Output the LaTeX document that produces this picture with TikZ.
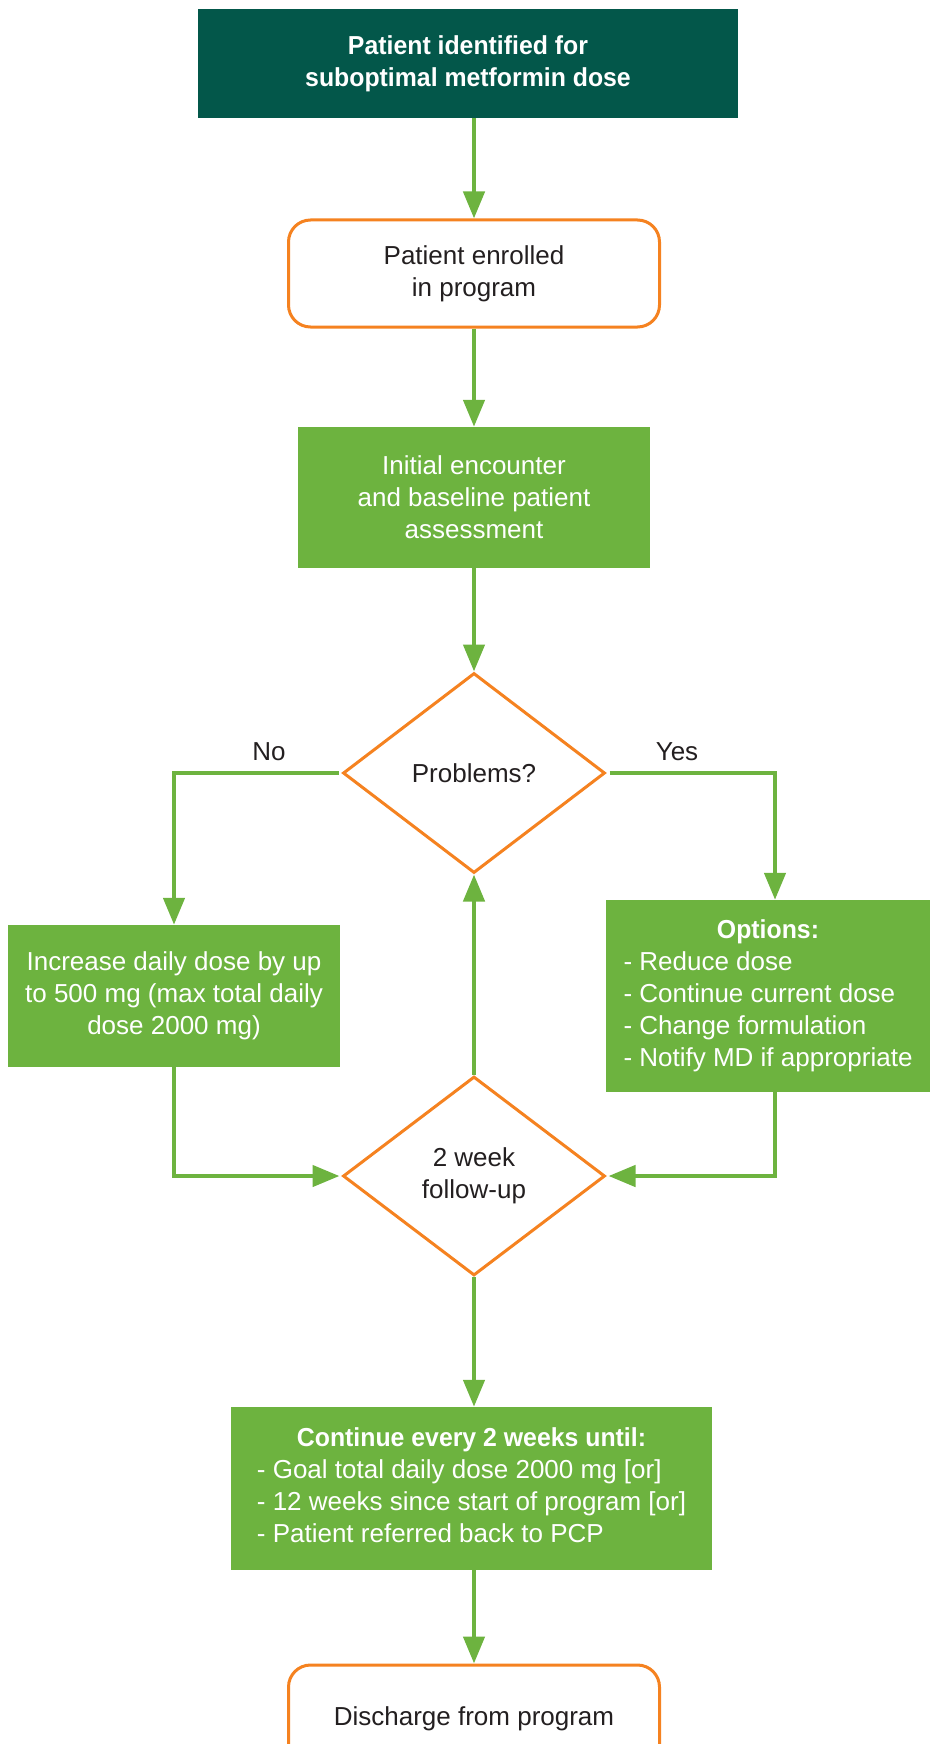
\documentclass[tikz,border=0pt]{standalone}
\usepackage{fontspec}
\setmainfont[BoldFeatures={FakeStretch=0.955}]{Liberation Sans}
\usetikzlibrary{shapes.geometric,arrows.meta}
\definecolor{dkgreen}{HTML}{03574A}
\definecolor{ltgreen}{HTML}{6DB33F}
\definecolor{orng}{HTML}{F58220}
\definecolor{txt}{HTML}{231F20}
\tikzset{
  fnt/.style={font=\fontsize{26pt}{32pt}\selectfont},
  gbox/.style={fill=ltgreen, text=white, align=center, inner sep=0pt, fnt},
  dbox/.style={fill=dkgreen, text=white, align=center, inner sep=0pt, fnt},
  rbox/.style={draw=orng, line width=3pt, rounded corners=22pt, fill=white, text=txt, align=center, inner sep=0pt, fnt},
  dia/.style={diamond, draw=orng, line width=3pt, fill=white, text=txt, align=center, inner sep=0pt, fnt},
  lbl/.style={text=txt, inner sep=0pt, fnt},
  arr/.style={draw=ltgreen, line width=4.5pt, -{Triangle[length=27pt,width=21pt]}}
}
\begin{document}
\begin{tikzpicture}[x=1pt,y=-1pt]
\useasboundingbox (0,0) rectangle (930,1744);
\node[dbox, minimum width=540pt, minimum height=109pt] (top) at (468,63.5) {\bfseries Patient identified for\\\bfseries suboptimal metformin dose};
\node[rbox, minimum width=371pt, minimum height=107pt] (enr) at (474,273.5) {Patient enrolled\\in program};
\node[gbox, minimum width=352pt, minimum height=141pt] (init) at (474,497.5) {Initial encounter\\and baseline patient\\assessment};
\node[dia, minimum width=262pt, minimum height=200pt] (d1) at (474,773) {Problems?};
\node[lbl] (no) at (269,752) {No};
\node[lbl] (yes) at (677,752) {Yes};
\node[gbox, minimum width=332pt, minimum height=142pt] (inc) at (174,996) {Increase daily dose by up\\to 500 mg (max total daily\\dose 2000 mg)};
\node[gbox, minimum width=324pt, minimum height=192pt] (opt) at (768,996) {\begin{tabular}{@{}l@{}}\multicolumn{1}{@{}c@{}}{\bfseries Options:}\\- Reduce dose\\- Continue current dose\\- Change formulation\\- Notify MD if appropriate\end{tabular}};
\node[dia, minimum width=262pt, minimum height=199pt] (d2) at (474,1176) {2 week\\follow-up};
\node[gbox, minimum width=481pt, minimum height=163pt] (cont) at (471.5,1488.5) {\begin{tabular}{@{}l@{}}\multicolumn{1}{@{}c@{}}{\bfseries Continue every 2 weeks until:}\\- Goal total daily dose 2000 mg [or]\\- 12 weeks since start of program [or]\\- Patient referred back to PCP\end{tabular}};
\node[rbox, minimum width=371pt, minimum height=107pt] (dis) at (474,1718.5) {Discharge from program};
\draw[arr] (top.south -| enr.north) -- (enr.north);
\draw[arr] (enr.south) -- (init.north);
\draw[arr] (init.south) -- (d1.north);
\draw[arr, shorten <=3pt] (d1.west) -| (inc.north);
\draw[arr, shorten <=3pt] (d1.east) -| ([xshift=7pt]opt.north);
\draw[arr, shorten >=2pt] (inc.south) |- (d2.west);
\draw[arr, shorten >=2pt] ([xshift=7pt]opt.south) |- (d2.east);
\draw[arr] (d2.north) -- (d1.south);
\draw[arr] (d2.south) -- (d2.south |- cont.north);
\draw[arr] (cont.south -| dis.north) -- (dis.north);
\end{tikzpicture}
\end{document}
